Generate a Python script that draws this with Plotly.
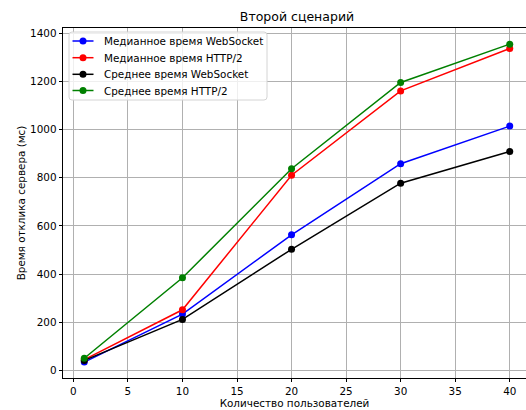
import plotly.graph_objects as go

# Number of concurrent users
users = [1, 10, 20, 30, 40]

# Server response time, ms
median_ws = [35, 234, 563, 858, 1014]
median_h2 = [45, 252, 810, 1160, 1336]
mean_ws = [42, 212, 503, 777, 909]
mean_h2 = [51, 385, 837, 1195, 1354]

series = [
    ("Медианное время WebSocket", median_ws, "blue"),
    ("Медианное время HTTP/2", median_h2, "red"),
    ("Среднее время WebSocket", mean_ws, "black"),
    ("Среднее время HTTP/2", mean_h2, "green"),
]

FONT = "DejaVu Sans"
FS = 10.4

W, H = 526, 410
ML, MR, MT, MB = 63, 0, 28, 32
PW, PH = W - ML - MR, H - MT - MB


def px(x):
    return (x - ML) / PW


def py(y):
    return 1 - (y - MT) / PH


fig = go.Figure()
for name, values, color in series:
    fig.add_trace(go.Scatter(
        x=users, y=values, name=name, mode="lines+markers",
        line=dict(color=color, width=1.5),
        marker=dict(color=color, size=7),
        showlegend=False,
    ))

# Legend box drawn in the upper-left corner of the plotting area
bx0, by0, bx1, by1, r = 69, 32, 267, 100, 3
box_path = (
    f"M {px(bx0 + r)},{py(by0)} L {px(bx1 - r)},{py(by0)} "
    f"Q {px(bx1)},{py(by0)} {px(bx1)},{py(by0 + r)} "
    f"L {px(bx1)},{py(by1 - r)} Q {px(bx1)},{py(by1)} {px(bx1 - r)},{py(by1)} "
    f"L {px(bx0 + r)},{py(by1)} Q {px(bx0)},{py(by1)} {px(bx0)},{py(by1 - r)} "
    f"L {px(bx0)},{py(by0 + r)} Q {px(bx0)},{py(by0)} {px(bx0 + r)},{py(by0)} Z"
)
shapes = [dict(type="path", path=box_path, xref="paper", yref="paper",
               fillcolor="rgba(255,255,255,0.8)", line=dict(color="#d4d4d4", width=1),
               layer="above")]
annotations = []
row_y = [41, 57.7, 74.3, 90.5]
for (name, _, color), ry in zip(series, row_y):
    shapes.append(dict(type="line", xref="paper", yref="paper",
                       x0=px(72.5), x1=px(93.5), y0=py(ry), y1=py(ry),
                       line=dict(color=color, width=1.5), layer="above"))
    shapes.append(dict(type="circle", xref="paper", yref="paper",
                       xsizemode="pixel", ysizemode="pixel",
                       xanchor=px(83), yanchor=py(ry),
                       x0=-3.5, x1=3.5, y0=-3.5, y1=3.5,
                       fillcolor=color, line=dict(color=color, width=0), layer="above"))
    annotations.append(dict(text=name, xref="paper", yref="paper",
                            x=px(102), y=py(ry), xanchor="left", yanchor="middle",
                            showarrow=False,
                            font=dict(family=FONT, size=FS, color="black")))

axis_common = dict(
    showgrid=True, gridcolor="#b0b0b0", gridwidth=0.8,
    showline=True, linecolor="black", linewidth=0.8,
    ticks="outside", ticklen=3.5, tickwidth=0.8, tickcolor="black",
    tickfont=dict(family=FONT, size=FS, color="black"),
    zeroline=False,
)

fig.update_layout(
    width=W, height=H,
    margin=dict(l=ML, r=MR, t=MT, b=MB),
    paper_bgcolor="white", plot_bgcolor="white",
    font=dict(family=FONT, size=FS, color="black"),
    title=dict(text="Второй сценарий", x=297 / W, xref="container", xanchor="center",
               y=1 - 17 / H, yref="container", yanchor="middle",
               font=dict(family=FONT, size=12.5, color="black")),
    xaxis=dict(range=[-0.95, 41.49], tickvals=[0, 5, 10, 15, 20, 25, 30, 35, 40],
               mirror=True,
               title=dict(text="Количество пользователей", standoff=3,
                          font=dict(family=FONT, size=FS, color="black")),
               **axis_common),
    yaxis=dict(range=[-31, 1421], tickvals=[0, 200, 400, 600, 800, 1000, 1200, 1400],
               title=dict(text="Время отклика сервера (мс)", standoff=2,
                          font=dict(family=FONT, size=FS, color="black")),
               **axis_common),
    shapes=shapes,
    annotations=annotations,
    showlegend=False,
)

fig.write_html("out.html")
